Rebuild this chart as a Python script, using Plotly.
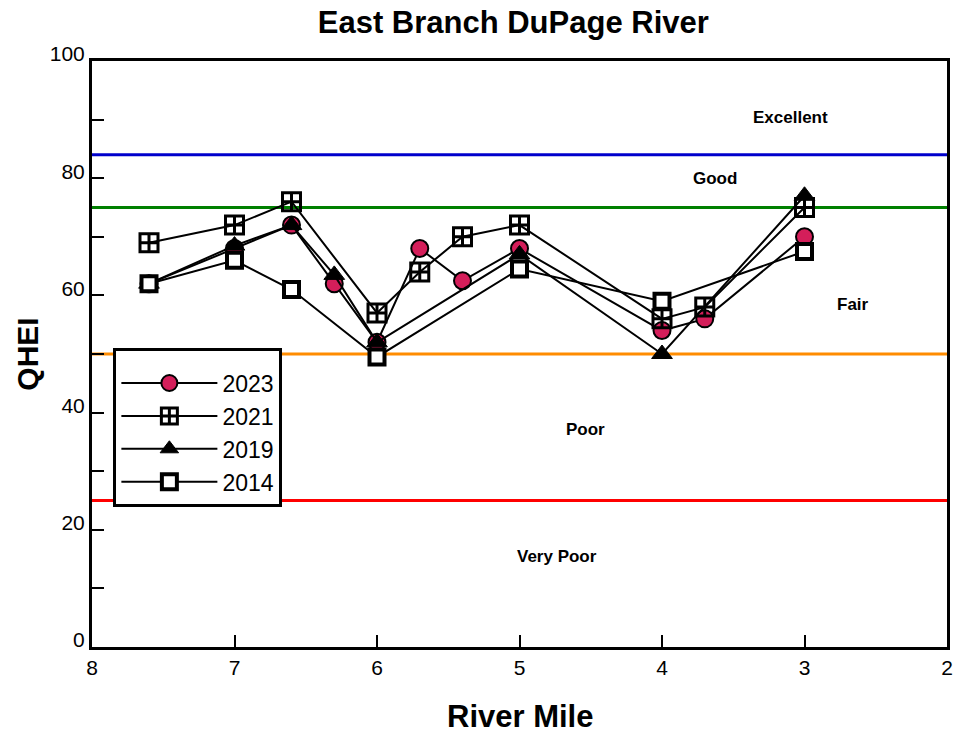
import plotly.graph_objects as go

# River mile stations per sampling year and QHEI scores
miles_2023 = [7.6, 7.0, 6.6, 6.3, 6.0, 5.7, 5.4, 5.0, 4.0, 3.7, 3.0]
qhei_2023 = [62, 68, 72, 62, 52, 68, 62.5, 68, 54, 56, 70]

miles_2021 = [7.6, 7.0, 6.6, 6.0, 5.7, 5.4, 5.0, 4.0, 3.7, 3.0]
qhei_2021 = [69, 72, 76, 57, 64, 70, 72, 56, 58, 75]

miles_2019 = [7.6, 7.0, 6.6, 6.3, 6.0, 5.0, 4.0, 3.0]
qhei_2019 = [62, 68.5, 72, 63.5, 52, 67, 50, 77]

miles_2014 = [7.6, 7.0, 6.6, 6.0, 5.0, 4.0, 3.0]
qhei_2014 = [62, 66, 61, 49.5, 64.5, 59, 67.5]

# Narrative rating thresholds and band labels
threshold_values = [84, 75, 50, 25]
threshold_colors = ["#0000CC", "#008000", "#FF8C00", "#FF0000"]
band_labels = ["Excellent", "Good", "Fair", "Poor", "Very Poor"]
band_label_x = [3.1, 3.63, 2.66, 4.54, 4.74]
band_label_y = [90.3, 80, 58.5, 37.2, 15.5]

x_ticks = [8, 7, 6, 5, 4, 3, 2]
y_ticks = [0, 20, 40, 60, 80, 100]

FONT = "Liberation Sans, Arial, sans-serif"

fig = go.Figure()

series = [
    ("2023", miles_2023, qhei_2023,
     dict(symbol="circle", size=17, color="#D41E5A", line=dict(color="black", width=2))),
    ("2021", miles_2021, qhei_2021,
     dict(symbol="square-cross-open", size=18, color="black", line=dict(color="black", width=3))),
    ("2019", miles_2019, qhei_2019,
     dict(symbol="triangle-up", size=18, color="black", line=dict(color="black", width=1))),
    ("2014", miles_2014, qhei_2014,
     dict(symbol="square", size=15, color="white", line=dict(color="black", width=4))),
]

for name, xs, ys, marker in series:
    fig.add_trace(go.Scatter(
        x=xs, y=ys, name=name, mode="lines+markers",
        line=dict(color="black", width=2),
        marker=marker,
    ))

for val, col in zip(threshold_values, threshold_colors):
    fig.add_shape(type="line", xref="paper", x0=0, x1=1, yref="y", y0=val, y1=val,
                  line=dict(color=col, width=3), layer="below")

for text, bx, by in zip(band_labels, band_label_x, band_label_y):
    fig.add_annotation(x=bx, y=by, text=f"<b>{text}</b>", showarrow=False,
                       font=dict(family=FONT, size=17, color="black"))

# x-axis title placed below the tick labels
fig.add_annotation(xref="paper", yref="paper", x=0.5, y=-0.118,
                   xanchor="center", yanchor="middle", showarrow=False,
                   text="<b>River Mile</b>",
                   font=dict(family=FONT, size=31, color="black"))

fig.update_layout(
    width=963, height=736,
    margin=dict(l=92, r=16, t=61, b=89),
    paper_bgcolor="white", plot_bgcolor="white",
    title=dict(text="<b>East Branch DuPage River</b>", x=0.533, xanchor="center",
               y=0.97, yanchor="middle",
               font=dict(family=FONT, size=31, color="black")),
    font=dict(family=FONT, color="black"),
    legend=dict(
        x=0.025, y=0.51, xanchor="left", yanchor="top",
        bgcolor="white", bordercolor="black", borderwidth=3,
        font=dict(family=FONT, size=23, color="black"),
        itemwidth=96, tracegroupgap=6,
        title=dict(text=" ", font=dict(size=8)),
    ),
    showlegend=True,
)

fig.update_xaxes(
    range=[8, 2], tickvals=x_ticks, ticktext=[str(t) for t in x_ticks],
    ticks="inside", ticklen=12, tickwidth=2, tickcolor="black",
    showline=True, linecolor="black", linewidth=3, mirror=True,
    showgrid=False, zeroline=False, automargin=False,
    tickfont=dict(family=FONT, size=21, color="black"),
)
fig.update_yaxes(
    range=[0, 100], tickvals=y_ticks,
    ticks="inside", ticklen=12, tickwidth=2, tickcolor="black",
    minor=dict(dtick=10, ticks="inside", ticklen=12, tickwidth=2, tickcolor="black"),
    showline=True, linecolor="black", linewidth=3, mirror=True,
    showgrid=False, zeroline=False,
    ticklabelshift=-7,
    tickfont=dict(family=FONT, size=21, color="black"),
    title=dict(text="<b>QHEI</b>", font=dict(family=FONT, size=30, color="black"),
               standoff=3),
)

fig.write_html("out.html")
